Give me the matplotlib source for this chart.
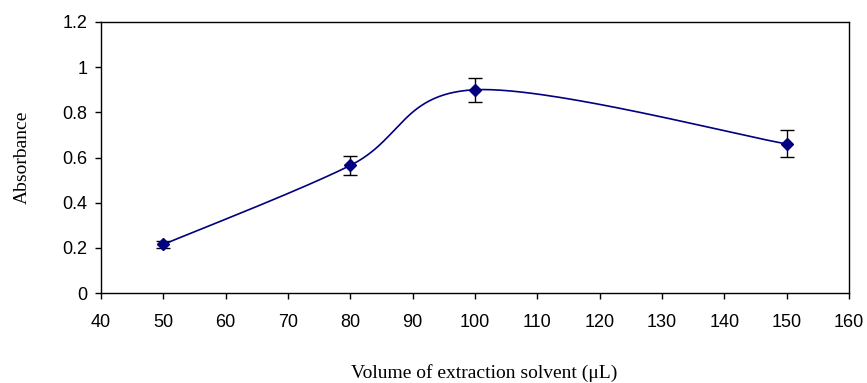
import matplotlib
matplotlib.use("Agg")
import matplotlib.pyplot as plt
import numpy as np

# data
volume = [50, 80, 100, 150]
absorbance = [0.215, 0.565, 0.90, 0.66]
err = [0.015, 0.042, 0.054, 0.06]


def excel_smooth(xs, ys, n=60):
    # Catmull-Rom style bezier, like Excel's "smoothed line"
    px = [xs[0]] + list(xs) + [xs[-1]]
    py = [ys[0]] + list(ys) + [ys[-1]]
    outx, outy = [], []
    t = np.linspace(0, 1, n)
    for i in range(1, len(px) - 2):
        p0 = np.array([px[i], py[i]])
        p3 = np.array([px[i + 1], py[i + 1]])
        c1 = p0 + (np.array([px[i + 1], py[i + 1]]) - np.array([px[i - 1], py[i - 1]])) / 6
        c2 = p3 - (np.array([px[i + 2], py[i + 2]]) - np.array([px[i], py[i]])) / 6
        b = ((1 - t) ** 3)[:, None] * p0 + (3 * (1 - t) ** 2 * t)[:, None] * c1 \
            + (3 * (1 - t) * t ** 2)[:, None] * c2 + (t ** 3)[:, None] * p3
        outx.extend(b[:, 0])
        outy.extend(b[:, 1])
    return outx, outy


fig = plt.figure(figsize=(8.67, 3.83), dpi=100)
ax = fig.add_axes([101 / 867, 1 - 293 / 383, 748 / 867, 271 / 383])

sx, sy = excel_smooth(volume, absorbance)
ax.plot(sx, sy, color="#000080", lw=1.2, zorder=2)
ax.errorbar(volume, absorbance, yerr=err, fmt="none", ecolor="black",
            elinewidth=1, capsize=5, capthick=1, zorder=3)
ax.plot(volume, absorbance, "D", color="#000080", ms=6, zorder=4)

ax.set_xlim(40, 160)
ax.set_ylim(0, 1.2)
ax.set_xticks(np.arange(40, 161, 10))
ax.set_yticks([0, 0.2, 0.4, 0.6, 0.8, 1, 1.2])
ax.set_yticklabels(["0", "0.2", "0.4", "0.6", "0.8", "1", "1.2"])
ax.tick_params(direction="out", length=4.3, width=1, labelsize=13, colors="black")
ax.tick_params(axis="x", pad=11)
ax.tick_params(axis="y", pad=5.5)
for lbl in ax.get_xticklabels() + ax.get_yticklabels():
    lbl.set_fontfamily("Liberation Sans")
for s in ax.spines.values():
    s.set_linewidth(1)
    s.set_color("black")

ax.set_xlabel("Volume of extraction solvent (\u03bcL)", fontfamily="Liberation Serif",
              fontsize=14)
ax.set_ylabel("Absorbance", fontfamily="Liberation Serif", fontsize=14)
ax.xaxis.set_label_coords(0.512, -0.262)
ax.yaxis.set_label_coords(-0.094, 0.5)

fig.savefig("out.png", dpi=100)
